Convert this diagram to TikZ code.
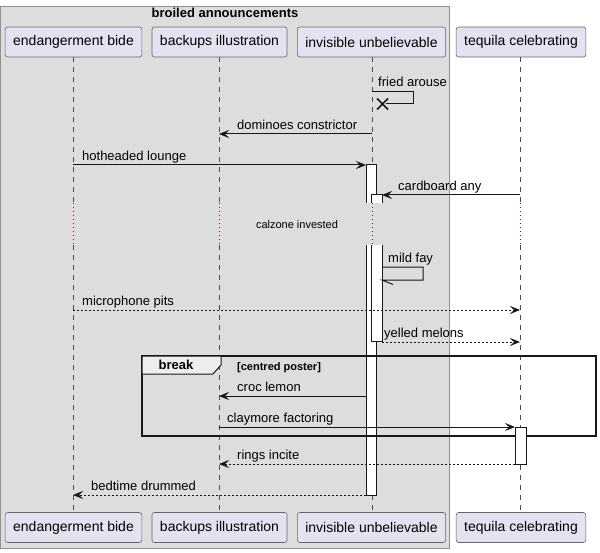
\documentclass[tikz,border=0pt]{standalone}
\usepackage{fontspec}
\setmainfont{Liberation Sans}
\usetikzlibrary{arrows.meta,calc}
\definecolor{partfill}{HTML}{E2E2F0}
\definecolor{grpfill}{HTML}{DDDDDD}
\definecolor{grpline}{HTML}{909090}
\definecolor{tabfill}{HTML}{EEEEEE}
\definecolor{ink}{HTML}{181818}
\definecolor{delaydot}{HTML}{8C1036}
\begin{document}
\begin{tikzpicture}[x=1bp,y=-1bp,
  part/.style={draw=black!60, line width=0.6bp, fill=partfill, rounded corners=2.5bp,
    minimum height=30bp, inner xsep=8bp, font=\fontsize{14bp}{16bp}\selectfont},
  lifeline/.style={draw=black!70, line width=0.5bp, dash pattern=on 5bp off 5bp},
  delayline/.style={draw=delaydot, line width=0.8bp, dash pattern=on 1bp off 3bp},
  msg/.style={draw=ink, line width=1bp},
  arr/.style={-{Stealth[length=10bp,width=8bp,inset=4bp]}},
  ret/.style={dash pattern=on 2bp off 2bp},
  lbl/.style={anchor=base west, inner sep=0pt, font=\fontsize{13bp}{15bp}\selectfont},
  actbar/.style={draw=ink, line width=1bp},
]
\useasboundingbox (0,0) rectangle (600,553);
% group box
\draw[grpline, fill=grpfill, line width=0.8bp] (0.5,6) rectangle (449,548);
\node[anchor=base, inner sep=0pt, font=\bfseries\fontsize{13bp}{15bp}\selectfont] (title) at (225,18) {broiled announcements};

% participants
\node[part] (pA) at (73.5,42) {endangerment bide};
\node[part] (pB) at (219.5,42) {backups illustration};
\node[part] (pC) at (371.5,42) {invisible unbelievable};
\node[part] (pD) at (521,42) {tequila celebrating};
\node[part] (qA) at (73.5,527.5) {endangerment bide};
\node[part] (qB) at (219.5,527.5) {backups illustration};
\node[part] (qC) at (371.5,527.5) {invisible unbelievable};
\node[part] (qD) at (521,527.5) {tequila celebrating};

% lifelines with delay gap
\foreach \n/\x in {A/73,B/219,C/372,D/520}{
  \coordinate (g1\n) at (\x,203);
  \coordinate (g2\n) at (\x,245);
  \draw[lifeline] (p\n.south -| g1\n) -- (g1\n);
  \draw[delayline] (g1\n) -- (g2\n);
  \draw[lifeline] (g2\n) -- (q\n.north -| g2\n);
}
\node[inner sep=0pt, font=\fontsize{11bp}{13bp}\selectfont] (delay) at (297,225) {calzone invested};

% fried arouse (self, destroyed)
\coordinate (fa1) at (372,92);
\coordinate (fa2) at (413,92);
\coordinate (fa3) at (413,104);
\coordinate (fa4) at (386,104);
\draw[msg] (fa1) -- (fa2) -- (fa3) -- (fa4);
\coordinate (xc) at (382.5,104);
\draw[ink, line width=1.6bp] ($(xc)+(-5.5,-5.5)$) -- ($(xc)+(5.5,5.5)$)
                             ($(xc)+(-5.5,5.5)$) -- ($(xc)+(5.5,-5.5)$);
\node[lbl] (l1) at (378,87) {fried arouse};

% dominoes constrictor
\coordinate (d1) at (372,134);
\coordinate (d2) at (219,134);
\draw[msg,arr] (d1) -- (d2);
\node[lbl] (l2) at (237,129.5) {dominoes constrictor};

% activation bars on C
\coordinate (c1) at (366,165);
\coordinate (c2) at (376,495);
\fill[white] (366,165) rectangle (376,203);
\draw[actbar] (366,203) -- (c1) -- (376,165) -- (376,203);
\fill[white] (366,245) rectangle (c2);
\draw[actbar] (366,245) -- (366,495) -- (c2) -- (376,245);
\coordinate (n1) at (371,195);
\coordinate (n2) at (382,341);
\fill[white] (n1) rectangle (382,203);
\draw[actbar] (371,203) -- (n1) -- (382,195) -- (382,203);
\fill[white] (371,245) rectangle (n2);
\draw[actbar] (371,245) -- (371,341) -- (n2) -- (382,245);

% activation bar on D
\coordinate (t1) at (515,427);
\coordinate (t2) at (526,464);

% hotheaded lounge
\coordinate (h1) at (73,165);
\draw[msg,arr] (h1) -- (c1);
\node[lbl] (l3) at (82,160.5) {hotheaded lounge};

% cardboard any
\coordinate (cb) at (520,195);
\draw[msg,arr] (cb) -- (382,195);
\node[lbl] (l4) at (398,190.5) {cardboard any};

% mild fay
\coordinate (mf1) at (382,267);
\coordinate (mf2) at (423,267);
\coordinate (mf3) at (423,280);
\coordinate (mf4) at (382,280);
\draw[msg] (mf1) -- (mf2) -- (mf3) -- (mf4) -- (393,284.5);
\node[lbl] (l5) at (388,262.5) {mild fay};

% microphone pits
\coordinate (mp1) at (73,310);
\coordinate (mp2) at (520,310);
\draw[msg,ret,arr] (mp1) -- (mp2);
\node[lbl] (l6) at (82,305.5) {microphone pits};

% yelled melons
\coordinate (ym1) at (382,342);
\coordinate (ym2) at (520,342);
\draw[msg,ret,arr] (ym1) -- (ym2);
\node[lbl] (l7) at (384,337.5) {yelled melons};

% break frame
\draw[ink, line width=1.6bp] (142,356) rectangle (596,436);
\draw[ink, line width=1bp, fill=tabfill] (142,356) -- (221,356) -- (221,365) -- (213,374) -- (142,374) -- cycle;
\node[inner sep=0pt, font=\bfseries\fontsize{13bp}{15bp}\selectfont] (brk) at (176,365) {break};
\node[anchor=base west, inner sep=0pt, font=\bfseries\fontsize{11bp}{13bp}\selectfont] (guard) at (237,370) {[centred poster]};

% croc lemon
\coordinate (cl1) at (366,396);
\coordinate (cl2) at (219,396);
\draw[msg,arr] (cl1) -- (cl2);
\node[lbl] (l8) at (237,391.5) {croc lemon};

% claymore factoring
\coordinate (cf1) at (219,427);
\draw[msg,arr] (cf1) -- (t1);
\node[lbl] (l9) at (227,422.5) {claymore factoring};

\fill[white] (t1) rectangle (t2);
\draw[actbar] (t1) rectangle (t2);

% rings incite
\coordinate (ri1) at (515,464);
\coordinate (ri2) at (219,464);
\draw[msg,ret,arr] (ri1) -- (ri2);
\node[lbl] (l10) at (237,459.5) {rings incite};

% bedtime drummed
\coordinate (bd1) at (366,495);
\coordinate (bd2) at (73,495);
\draw[msg,ret,arr] (bd1) -- (bd2);
\node[lbl] (l11) at (91,490.5) {bedtime drummed};
\end{tikzpicture}
\end{document}
